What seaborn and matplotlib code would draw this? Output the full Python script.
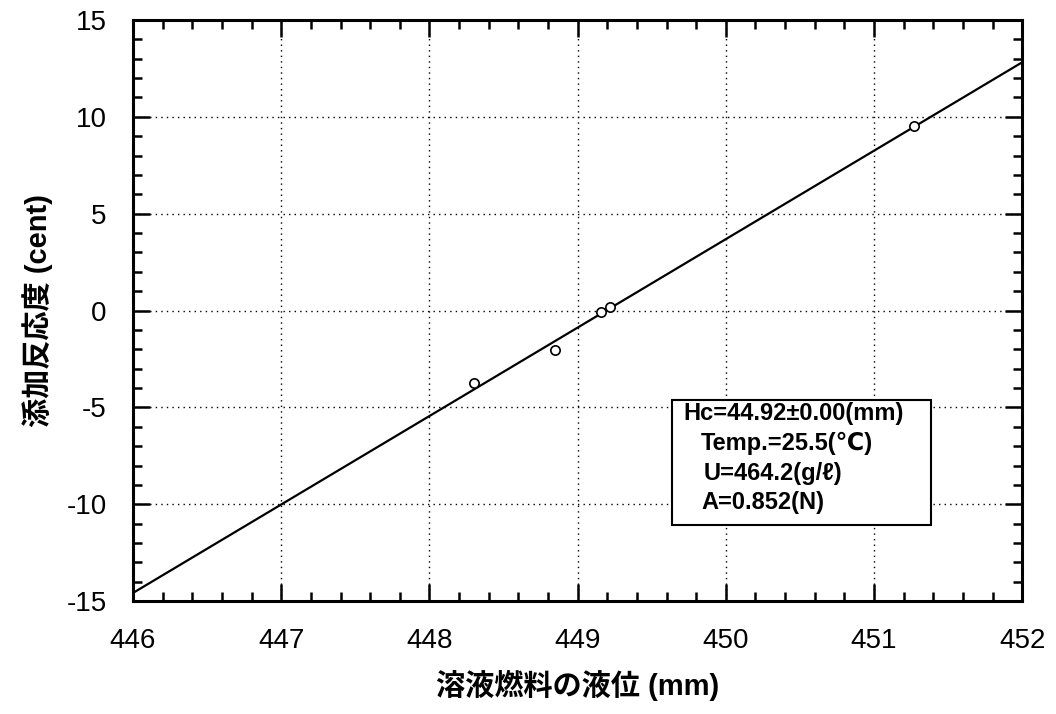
import numpy as np
import pandas as pd
import matplotlib
matplotlib.use("Agg")
import matplotlib.pyplot as plt
from matplotlib.patches import Rectangle
from matplotlib.ticker import MultipleLocator
import seaborn as sns

# Measured points (liquid level [mm] vs. added reactivity [cent])
level_mm = [448.30, 448.85, 449.16, 449.22, 451.27]
reactivity_cent = [-3.76, -2.05, -0.07, 0.17, 9.54]

x_ticks = [446, 447, 448, 449, 450, 451, 452]
y_ticks = [-15, -10, -5, 0, 5, 10, 15]

info_lines = ["Hc=44.92±0.00(mm)", "Temp.=25.5(℃)", "U=464.2(g/ℓ)", "A=0.852(N)"]

df = pd.DataFrame({"level": level_mm, "reactivity": reactivity_cent})

sns.set_style("ticks")
plt.rcParams["font.family"] = ["Liberation Sans", "Noto Sans CJK JP", "DejaVu Sans"]
plt.rcParams["axes.unicode_minus"] = False
plt.rcParams["text.color"] = "black"
plt.rcParams["axes.labelcolor"] = "black"
plt.rcParams["xtick.color"] = "black"
plt.rcParams["ytick.color"] = "black"

fig = plt.figure(figsize=(10.56, 7.14), dpi=100)
ax = fig.add_axes([0.126, 0.158, 0.842, 0.814])

ax.set_xlim(446, 452)
ax.set_ylim(-15, 15)

# fitted line is extended to the axis limits (truncate=False)
sns.regplot(data=df, x="level", y="reactivity", ci=None, truncate=False, ax=ax,
            scatter_kws=dict(color="black", facecolors="white", edgecolors="black",
                             s=45, linewidths=1.2, alpha=1, zorder=3),
            line_kws=dict(color="black", lw=1.6, zorder=2))

ax.set_xticks(x_ticks)
ax.set_yticks(y_ticks)
ax.xaxis.set_minor_locator(MultipleLocator(0.2))
ax.yaxis.set_minor_locator(MultipleLocator(1))
ax.tick_params(which="both", direction="in", top=True, right=True, width=1.8,
               color="black", labelcolor="black")
ax.tick_params(which="major", length=12, pad=19, labelsize=20)
ax.tick_params(which="minor", length=6.5)
ax.grid(True, which="major", linestyle=(0, (1, 3)), color="black", lw=1)
for s in ax.spines.values():
    s.set_linewidth(2.2)
    s.set_color("black")

lab_family = ["Liberation Sans", "Noto Sans CJK JP", "DejaVu Sans"]
ax.set_xlabel("溶液燃料の液位 (mm)", fontsize=21, fontweight="bold",
              family=lab_family, labelpad=12)
ax.set_ylabel("添加反応度 (cent)", fontsize=21, fontweight="bold",
              family=lab_family, labelpad=10)

# parameter box
ax.add_patch(Rectangle((0.606, 0.131), 0.291, 0.215, transform=ax.transAxes,
                       facecolor="white", edgecolor="black", lw=1.5, zorder=4))
line_x = [0.619, 0.638, 0.642, 0.639]
line_y = [0.3236, 0.272, 0.220, 0.169]
for txt, lx, ly in zip(info_lines, line_x, line_y):
    ax.text(lx, ly, txt, transform=ax.transAxes, fontsize=17, va="center", ha="left",
            fontweight="bold", family=["Liberation Sans", "DejaVu Sans", "Noto Sans CJK JP"],
            zorder=5)

fig.savefig("out.png", dpi=100)
